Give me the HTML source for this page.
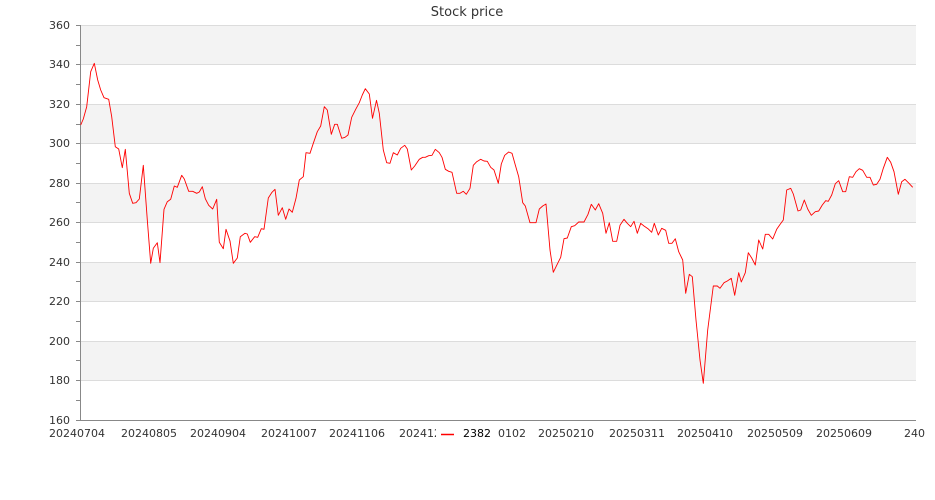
<!DOCTYPE html>
<html><head><meta charset="utf-8"><style>
body{margin:0;background:#fff;}
svg{display:block;font-family:"DejaVu Sans","Liberation Sans",sans-serif;}
</style></head><body>
<svg width="935" height="500" viewBox="0 0 935 500">
<rect width="935" height="500" fill="#fff"/>
<g fill="#f3f3f3">
<rect x="80" y="25" width="836" height="39.5"/>
<rect x="80" y="104" width="836" height="39.5"/>
<rect x="80" y="183" width="836" height="39.5"/>
<rect x="80" y="262" width="836" height="39.5"/>
<rect x="80" y="341" width="836" height="39.5"/>
</g>
<g stroke="#dcdcdc" stroke-width="1">
<line x1="80" x2="916" y1="25.5" y2="25.5"/><line x1="80" x2="916" y1="64.5" y2="64.5"/>
<line x1="80" x2="916" y1="104.5" y2="104.5"/><line x1="80" x2="916" y1="143.5" y2="143.5"/>
<line x1="80" x2="916" y1="183.5" y2="183.5"/><line x1="80" x2="916" y1="222.5" y2="222.5"/>
<line x1="80" x2="916" y1="262.5" y2="262.5"/><line x1="80" x2="916" y1="301.5" y2="301.5"/>
<line x1="80" x2="916" y1="341.5" y2="341.5"/><line x1="80" x2="916" y1="380.5" y2="380.5"/>
</g>
<line x1="80.5" x2="80.5" y1="25" y2="420" stroke="#888"/>
<line x1="80" x2="916" y1="420.5" y2="420.5" stroke="#888"/>
<g stroke="#888">
<path d="M76 25.5h4M76 45.5h4M76 64.5h4M76 84.5h4M76 104.5h4M76 124.5h4M76 143.5h4M76 163.5h4M76 183.5h4M76 202.5h4M76 222.5h4M76 242.5h4M76 262.5h4M76 281.5h4M76 301.5h4M76 321.5h4M76 341.5h4M76 360.5h4M76 380.5h4M76 400.5h4M76 420.5h4"/>
</g>
<g font-size="11" fill="#333" text-anchor="end">
<text x="70" y="29">360</text><text x="70" y="68">340</text><text x="70" y="108">320</text>
<text x="70" y="147">300</text><text x="70" y="187">280</text><text x="70" y="226">260</text>
<text x="70" y="266">240</text><text x="70" y="305">220</text><text x="70" y="345">200</text>
<text x="70" y="384">180</text><text x="70" y="424">160</text>
</g>
<text x="467" y="16" font-size="13" fill="#333" text-anchor="middle">Stock price</text>
<polyline fill="none" stroke="#f00" stroke-width="0.9" stroke-linejoin="round" points="80.7,125 83.3,119 86.7,106.7 90.7,71.7 94.3,63.3 97.7,80 100.7,90 104,97.7 108.7,99.3 111.7,116.7 115.3,146.7 118.7,149 122.3,167.7 125.3,149.3 129.3,193.3 132.7,203.3 136,202.7 139.3,199 143.3,165.3 147.3,220 150.7,263.3 153.3,248.3 157.3,242.7 160,262.7 164,209.3 167.3,201.7 170.7,199.3 174.3,186 177.3,187.3 181.7,175.3 184.3,179 188.7,191.3 192.7,191.3 196.7,193.3 199.3,192 202.3,186.7 205.3,198.7 208.7,205.3 212.7,209 216.7,199.3 219.3,242.3 223.3,248.7 226,229.3 230,241 233.3,263.3 237.3,258 240.3,236.7 245,233.3 247.3,234 250.3,242.3 254.7,236.7 257.7,237.3 261.3,228.7 264,229.3 268.3,198 272,192.3 275,189.3 278.3,215.3 282.3,207.7 285.7,219.3 289,209 292.3,212.3 296,198.3 299.3,180 303.3,176.7 306,152.7 310,153.3 313.3,143.3 317.3,131.7 320.7,126 324.3,106.7 327.3,110 331.3,134.3 334.7,124.3 337.3,124.3 341.7,138.3 345,137.3 348,135 351.7,117.3 355.7,109.3 359.3,102.7 362.3,95 365.3,88.7 369.3,94 372.5,118.3 376.5,100.3 379.3,113.3 383.3,150 386.7,162.7 390,163.3 393.3,152.7 397.3,155 400.7,148.3 404.7,145.3 407.3,149 411.3,170 414.7,166 419.3,159.3 422.7,157.3 425.3,157.3 428.7,155.7 432,155.3 435.3,149.3 439.3,152.7 442,157.3 445.3,169.3 448.7,171.3 452,172.3 456.7,193.3 460,193.3 463.3,191.3 466.3,194.3 470,188.3 473.3,165.3 476.7,161.7 480.7,159.3 484,161 487.3,161.3 490.7,167.3 494,170 498.3,183.3 501.3,164 504.7,155.3 508.7,152 512,153.3 515.3,165 518.7,176.7 522.7,202.7 525.3,206 530,222.7 536,222.7 539.3,209 542.7,206 546,204 550,250 553.3,272.3 556.7,265.3 560.7,257.3 564,238.7 567.3,238 571.3,226.7 574.7,225.7 578.7,222 584,222 588,214.3 591.3,204.3 595.3,210 598.7,203.7 602.7,213.3 606,233.3 609.3,222.7 612.7,241.3 616.7,241.3 620,225.3 624,219.3 627.3,223.3 630.7,226.7 634,221.3 637.3,233.3 640.7,223.3 644,226 648,228.7 651.7,232.3 654.3,223.3 658.3,235 661.7,228.3 665.7,230.3 668.7,243.3 672,243.3 675.3,238.7 678.7,251.7 682.7,260 685.7,293.3 689.3,274.3 692.3,276.7 696,320 700,360 703.3,383.3 707.7,330 713.3,286 717.3,286 720,288.3 724,282.7 727.3,281 731.3,278.3 734.7,295.3 738.7,272.7 741.3,282 745.3,272.7 748.3,252.7 751.7,258 755.3,265 758.7,240 762.7,249 765.3,234.3 768.7,234.3 772.7,239 776.7,229.3 780,224.5 783.3,220 786.7,190 790.7,188.3 793.3,194 798,211 800.7,210 804.3,200 807.7,209 811.3,215.3 815.3,211.7 818.7,211 822.3,205 825.7,200.7 828.3,201.3 831.7,195 835.3,183.7 838.7,180.7 842.7,191.7 845.7,191.7 849.3,176.7 852.7,177.3 856,171.7 859.3,168.7 862.7,170.3 866.7,177.3 870,177.3 873.3,185 876.7,184.3 880,179.3 883.3,168.3 887.3,157.3 890.7,162.3 894,171.7 898.3,194.3 901.7,181.7 905,179.3 909,183.3 912.7,187.3"/>
<g font-size="11" fill="#333">
<text x="49" y="437">20240704</text><text x="121" y="437">20240805</text>
<text x="190" y="437">20240904</text><text x="261" y="437">20241007</text>
<text x="329" y="437">20241106</text><text x="399" y="437">20241205</text>
<text x="470" y="437">20250102</text><text x="538" y="437">20250210</text>
<text x="609" y="437">20250311</text><text x="677" y="437">20250410</text>
<text x="747" y="437">20250509</text><text x="816" y="437">20250609</text>
<text x="904" y="437">240</text>
</g>
<rect x="436" y="424" width="61" height="18" fill="#fff"/>
<line x1="441" x2="454" y1="434.5" y2="434.5" stroke="#f00" stroke-width="1.5"/>
<text x="463" y="437" font-size="11" fill="#000">2382</text>
</svg>
</body></html>
